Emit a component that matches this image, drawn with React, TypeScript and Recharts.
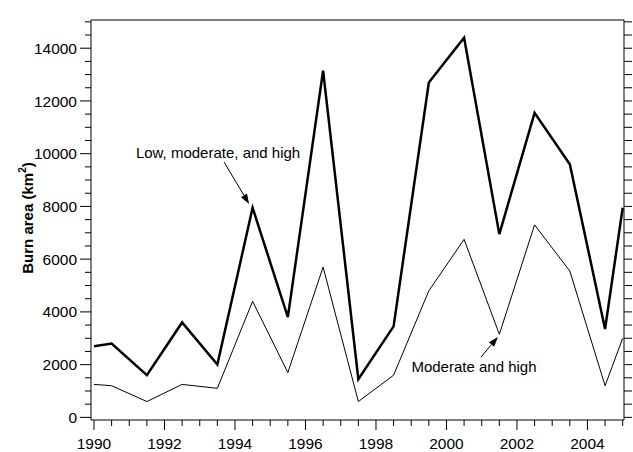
import React from 'react';
import { LineChart, Line, XAxis, YAxis, ReferenceLine, ReferenceDot } from 'recharts';

// fire seasons (mid-year points, plus the start and end of the record)
const years = [1990, 1990.5, 1991.5, 1992.5, 1993.5, 1994.5, 1995.5, 1996.5, 1997.5, 1998.5, 1999.5, 2000.5, 2001.5, 2002.5, 2003.5, 2004.5, 2005];
const lowModHigh = [2700, 2800, 1600, 3600, 2000, 7950, 3800, 13150, 1450, 3450, 12700, 14400, 6950, 11550, 9600, 3350, 7950];
const modHigh = [1250, 1200, 600, 1250, 1100, 4400, 1700, 5700, 600, 1600, 4800, 6750, 3150, 7300, 5550, 1200, 3000];

const xMajorTicks = [1990, 1992, 1994, 1996, 1998, 2000, 2002, 2004];
const xTickLabels = ['1990', '1992', '1994', '1996', '1998', '2000', '2002', '2004'];
const xAllTicks = [1990, 1990.5, 1991, 1991.5, 1992, 1992.5, 1993, 1993.5, 1994, 1994.5, 1995, 1995.5, 1996, 1996.5, 1997, 1997.5, 1998, 1998.5, 1999, 1999.5, 2000, 2000.5, 2001, 2001.5, 2002, 2002.5, 2003, 2003.5, 2004, 2004.5, 2005];
const yMajorTicks = [0, 2000, 4000, 6000, 8000, 10000, 12000, 14000];
const yTickLabels = ['0', '2000', '4000', '6000', '8000', '10000', '12000', '14000'];
const yAllTicks = [0, 500, 1000, 1500, 2000, 2500, 3000, 3500, 4000, 4500, 5000, 5500, 6000, 6500, 7000, 7500, 8000, 8500, 9000, 9500, 10000, 10500, 11000, 11500, 12000, 12500, 13000, 13500, 14000, 14500, 15000];

const data = years.map((year, i) => ({ year, total: lowModHigh[i], modHigh: modHigh[i] }));

const X_DOMAIN: [number, number] = [1989.915, 2005.037];
const Y_DOMAIN: [number, number] = [-100, 15070];
const FONT = '"Liberation Sans", Arial, sans-serif';

const BottomTick = (props: any) => {
    const { x, y, payload } = props;
    const idx = xMajorTicks.indexOf(payload.value);
    const major = idx >= 0;
    return (
        <g>
            <line x1={x} x2={x} y1={y} y2={y + (major ? 10 : 6)} stroke="#000" />
            {major && (
                <text x={x} y={y + 29} textAnchor="middle" fontSize={15.5} fill="#000" fontFamily={FONT}>{xTickLabels[idx]}</text>
            )}
        </g>
    );
};

const TopTick = (props: any) => {
    const { x, y, payload } = props;
    const major = xMajorTicks.includes(payload.value) || payload.value === 2005 ? xMajorTicks.includes(payload.value) : false;
    return <line x1={x} x2={x} y1={y} y2={y - (major ? 12 : 6)} stroke="#000" />;
};

const LeftTick = (props: any) => {
    const { x, y, payload } = props;
    const idx = yMajorTicks.indexOf(payload.value);
    const major = idx >= 0;
    return (
        <g>
            <line x1={x} x2={x - (major ? 11 : 6)} y1={y} y2={y} stroke="#000" />
            {major && (
                <text x={x - 14} y={y} dy="0.36em" textAnchor="end" fontSize={15.5} fill="#000" fontFamily={FONT}>{yTickLabels[idx]}</text>
            )}
        </g>
    );
};

const RightTick = (props: any) => {
    const { x, y } = props;
    return <line x1={x} x2={x + 8} y1={y} y2={y} stroke="#000" />;
};

const YLabel = (props: any) => {
    const { viewBox } = props;
    const cx = viewBox.x + 33;
    const cy = 218;
    return (
        <text x={cx} y={cy} transform={`rotate(-90, ${cx}, ${cy})`} textAnchor="middle" fontSize={15} fontWeight="bold" fill="#000" fontFamily={FONT}>
            <tspan>Burn area (km</tspan>
            <tspan dy={-7} fontSize={10}>2</tspan>
            <tspan dy={7}>)</tspan>
        </text>
    );
};

// annotation arrows, given in data units
const arrows = [
    { from: { x: 1993.69, y: 9685 }, to: { x: 1994.4, y: 8092 } },
    { from: { x: 2000.98, y: 2288 }, to: { x: 2001.46, y: 3050 } },
];
const notes = [
    { x: 1993.52, y: 10027, text: 'Low, moderate, and high' },
    { x: 2000.78, y: 1912, text: 'Moderate and high' },
];

const Arrow = (props: any) => {
    const { x1, y1, x2, y2 } = props;
    const ang = Math.atan2(y2 - y1, x2 - x1);
    const len = 10, half = 3.5;
    const bx = x2 - len * Math.cos(ang);
    const by = y2 - len * Math.sin(ang);
    const px = -Math.sin(ang) * half;
    const py = Math.cos(ang) * half;
    return (
        <g>
            <line x1={x1} y1={y1} x2={bx} y2={by} stroke="#000" strokeWidth={1} />
            <polygon points={`${x2},${y2} ${bx + px},${by + py} ${bx - px},${by - py}`} fill="#000" />
        </g>
    );
};

export default function BurnAreaChart() {
    return (
        <div style={{ position: 'absolute', left: 0, top: 0, width: 633, height: 452, background: '#fff' }}>
            <LineChart width={633} height={452} data={data} margin={{ top: 0, right: 0, bottom: 0, left: 0 }} style={{ fontFamily: FONT }}>
                <XAxis
                    xAxisId={0}
                    dataKey="year"
                    type="number"
                    domain={X_DOMAIN}
                    allowDataOverflow
                    ticks={xAllTicks}
                    interval={0}
                    height={32}
                    tickSize={0}
                    tickMargin={0}
                    tickLine={false}
                    axisLine={{ stroke: '#000' }}
                    tick={<BottomTick />}
                />
                <XAxis
                    xAxisId="top"
                    orientation="top"
                    type="number"
                    domain={X_DOMAIN}
                    allowDataOverflow
                    ticks={xAllTicks}
                    interval={0}
                    height={20}
                    tickSize={0}
                    tickMargin={0}
                    tickLine={false}
                    axisLine={{ stroke: '#000' }}
                    tick={<TopTick />}
                />
                <YAxis
                    yAxisId={0}
                    type="number"
                    domain={Y_DOMAIN}
                    allowDataOverflow
                    ticks={yAllTicks}
                    interval={0}
                    width={91}
                    tickSize={0}
                    tickMargin={0}
                    tickLine={false}
                    axisLine={{ stroke: '#000' }}
                    tick={<LeftTick />}
                    label={<YLabel />}
                />
                <YAxis
                    yAxisId="right"
                    orientation="right"
                    type="number"
                    domain={Y_DOMAIN}
                    allowDataOverflow
                    ticks={yAllTicks}
                    interval={0}
                    width={9}
                    tickSize={0}
                    tickMargin={0}
                    tickLine={false}
                    axisLine={{ stroke: '#000' }}
                    tick={<RightTick />}
                />

                {/* Moderate and high */}
                <Line dataKey="modHigh" xAxisId={0} yAxisId={0} stroke="#000" strokeWidth={1} dot={false} activeDot={false} isAnimationActive={false} />
                {/* Low, moderate, and high */}
                <Line dataKey="total" xAxisId={0} yAxisId={0} stroke="#000" strokeWidth={2.5} dot={false} activeDot={false} isAnimationActive={false} />

                {arrows.map((a, i) => (
                    <ReferenceLine key={`a${i}`} xAxisId={0} yAxisId={0} segment={[a.from, a.to]} stroke="#000" shape={<Arrow />} />
                ))}
                {notes.map((n, i) => (
                    <ReferenceDot
                        key={`n${i}`}
                        xAxisId={0}
                        yAxisId={0}
                        x={n.x}
                        y={n.y}
                        r={0}
                        shape={(p: any) => (
                            <text x={p.cx} y={p.cy} dy="0.36em" textAnchor="middle" fontSize={15} fill="#000" fontFamily={FONT}>{n.text}</text>
                        )}
                    />
                ))}
            </LineChart>
        </div>
    );
}
